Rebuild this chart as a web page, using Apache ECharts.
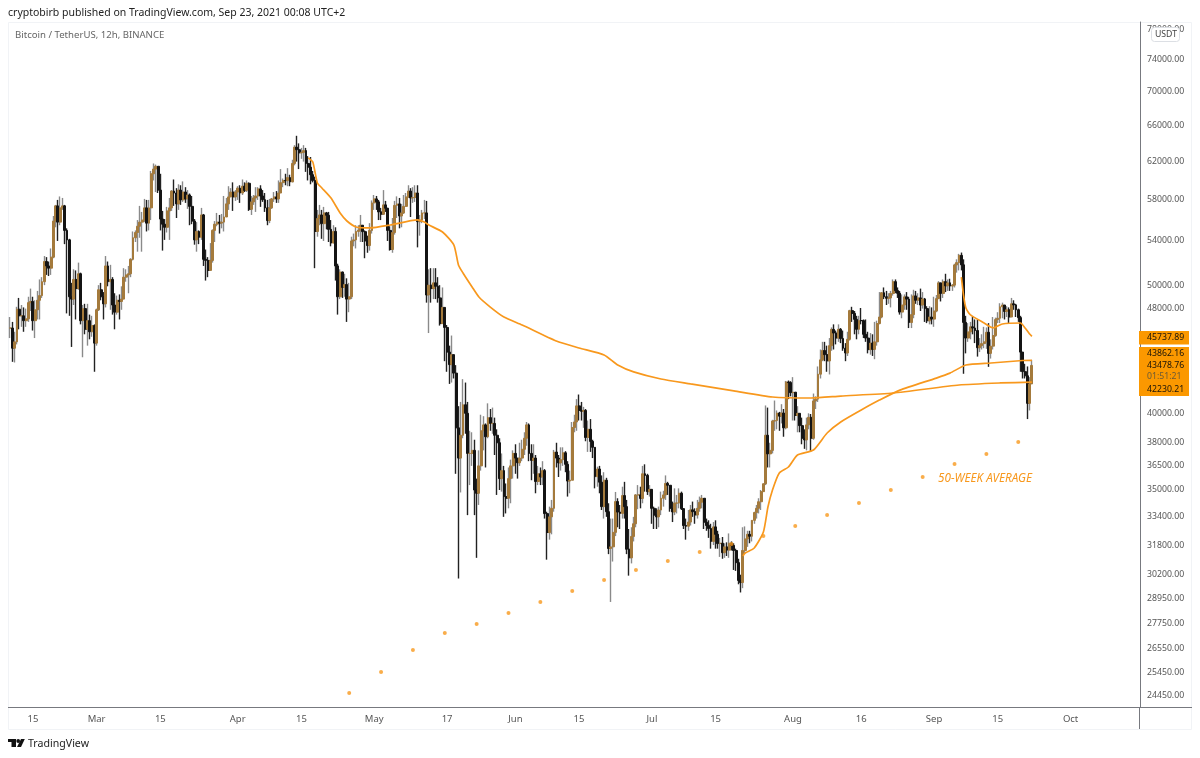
<!DOCTYPE html>
<html>
<head>
<meta charset="utf-8">
<title>BTCUSDT 12h</title>
<style>
  html, body { margin: 0; padding: 0; background: #fff; }
  #chart { width: 1200px; height: 758px; }
</style>
<script src="https://cdn.jsdelivr.net/npm/echarts@6/dist/echarts.min.js"></script>
</head>
<body>
<div id="chart"></div>
<script>
// 12h candles, Feb 10 00:00 to Sep 22 12:00, ten candles (five days) per row
var firstOpen = 46400;
var closes = [
  46400,44800,45300,47950,47400,47400,47000,47150,48500,48600,
  47000,47900,48700,49100,50300,52100,51700,51500,52500,55900,
  57400,55800,57200,57400,55000,54100,49000,48800,50500,49700,
  51000,47000,48000,46300,47000,46100,46600,45200,47900,49600,
  49000,48400,51700,50300,50500,48300,47700,48700,48600,48800,
  50700,50900,51000,52300,54300,54800,55400,55800,56000,57200,
  55700,57200,60700,61200,61500,59000,56100,55600,55300,56900,
  57200,58900,58700,57600,59000,58000,58800,58100,58500,57350,
  55900,54100,54900,54340,56500,52300,52200,51300,52200,55000,
  55600,55800,55700,55800,56300,57600,58300,58800,58300,58800,
  59200,58700,59400,58970,59700,57060,57800,58200,58400,59120,
  58400,58020,57200,55950,57200,58100,58300,58100,58700,59770,
  60000,59980,60300,59850,61800,63580,63300,62950,63000,63200,
  61800,61400,60600,60000,54900,56150,56500,55650,56700,56470,
  55100,53800,54900,51700,49000,51150,49800,50050,48800,49000,
  54000,54100,54900,55030,55500,54880,54000,53570,55000,57700,
  58100,57800,56800,56570,57500,57170,55000,53200,54800,57450,
  57600,56400,56700,57350,58300,58900,58200,58240,58700,55850,
  56000,56700,56700,49150,50000,49700,50200,49900,48900,46760,
  48100,46450,44500,43540,44300,42900,39000,37000,38500,40600,
  40000,37300,37300,37500,35000,34800,36500,38800,39200,38400,
  39700,39300,39300,38500,38000,35700,36200,34600,34500,35700,
  36500,37300,37000,36700,37000,37570,38300,39200,37300,36850,
  37000,35520,36000,35800,36200,33590,32500,33400,33900,37390,
  37000,36690,36900,37340,36600,35550,35600,39020,39400,40520,
  40200,40140,40200,38350,38900,38090,37700,35820,36300,35480,
  34000,35600,33700,31610,31700,32510,34300,33680,33600,34660,
  34000,31570,31100,32280,33000,34700,34700,34490,36000,35900,
  34900,35040,33900,33500,33400,33800,34500,34700,35400,35290,
  33900,33690,34200,34220,34800,33880,32900,32860,33100,33810,
  33700,33510,33900,34260,34500,33090,32900,32730,32000,32820,
  32400,31880,31900,31380,31700,31520,31900,31780,31500,30840,
  29900,29790,31500,32140,32400,32290,33200,33650,33900,34290,
  34900,35380,38500,37270,37500,39460,39500,40020,39800,40020,
  39000,42240,42200,41460,41500,39850,40000,39150,38300,38190,
  39200,39720,38300,40870,41000,42820,43900,44620,44300,43820,
  45000,46290,46000,45600,46300,45560,44800,44430,45500,47830,
  47600,47110,46300,47010,47000,45900,45600,44690,45200,44710,
  45300,46770,47300,49340,49000,48870,48900,49280,50300,49530,
  49300,47710,48300,48990,48800,46850,47500,49070,48700,48900,
  48300,48810,48000,46990,47300,47130,47800,48840,50200,49280,
  50300,49940,50200,49920,50000,51790,52000,52660,51800,46860,
  45600,46090,46500,46400,46200,44840,45000,45160,45300,46060,
  44400,44960,45800,47090,47200,48150,48300,47760,47900,47300,
  48400,48310,47900,47250,44500,43010,42700,40700,42100,43478.76
];
var highs = [
  47300,46900,46100,48150,48900,48300,48100,48000,49000,49700,
  49000,48700,49500,50500,50700,52600,52500,52100,53300,56400,
  57500,58000,58350,58200,57500,55200,54200,50200,51400,51300,
  52000,51100,48300,48400,48400,47500,47400,46700,48000,50000,
  50200,49400,52600,52100,51800,50700,49300,49100,49200,49900,
  51500,51400,51700,52400,54900,55000,56000,57400,56800,58100,
  58000,58000,61000,61800,61680,61500,60700,56900,56100,57300,
  58200,59000,60100,59200,59600,59500,59900,59300,59000,58650,
  58400,56100,55800,55000,57200,56600,53200,52500,53800,55100,
  55900,56700,56500,56600,58400,58200,59400,59200,59800,59000,
  59400,59500,60100,59800,60000,59800,58400,58500,59300,59300,
  59500,59000,58700,58000,58100,58200,58800,58900,60000,61200,
  60200,60700,61300,60600,62200,63800,64850,64000,63500,63800,
  63500,62600,62500,61000,60400,57000,57500,57000,57300,56800,
  56800,56000,55500,55300,51900,51400,51200,51000,50600,50200,
  54400,54700,55500,55500,56500,55400,55000,54500,55700,57950,
  58500,58400,58000,57200,59000,57900,57200,55400,56200,57900,
  58360,58200,57600,58500,58700,59500,59200,59300,59500,59500,
  56500,57000,58000,57900,51400,51500,51500,51500,50700,50000,
  49800,47800,46650,45000,45800,44000,43500,40500,40800,42450,
  42200,40800,38800,38700,38200,35700,37500,39900,39800,39300,
  40700,40300,40400,39700,38900,38300,37300,36500,35400,36400,
  36900,37500,37900,37000,38000,38200,38700,39400,39300,37900,
  37900,37200,36500,36400,36800,36300,33700,34000,34400,37530,
  38000,37200,37700,37700,37450,36800,36200,39400,39900,41000,
  41330,40800,40450,40300,39500,39600,38200,37400,36450,36500,
  35900,36100,35750,34200,33300,33300,34880,34500,34100,35200,
  35500,34400,32700,32800,33400,34750,35300,35200,36500,36600,
  36000,35300,35040,34000,33900,34000,34900,34950,35900,35500,
  35300,34300,35100,34700,35100,34900,33900,33300,33800,34100,
  34300,33900,34400,34600,34700,34500,33300,33200,33000,33100,
  33200,32600,32200,32250,31900,31950,32450,32000,31900,31600,
  31050,30200,32800,32850,32600,32600,33200,33700,34100,34500,
  35000,35400,40550,40400,38000,39550,40900,40200,40100,40640,
  40300,42320,42350,42300,42600,41100,40500,39700,39700,38900,
  39700,40000,39950,41400,41200,43400,44700,45300,45300,45000,
  45600,46450,46700,46200,46700,46400,46200,45200,46100,47900,
  48150,47800,47400,47400,48050,47100,47100,46100,46000,45900,
  46900,47000,49400,49400,49800,49500,49300,49500,50500,50500,
  49800,49500,49200,49200,49400,49000,49200,49600,49500,49300,
  49700,49400,48900,48200,48200,48100,49000,49150,50350,50000,
  50500,51000,50500,50560,50100,51900,52300,52800,52920,52300,
  47400,46800,46900,47350,47100,47100,45600,45900,46500,46450,
  46800,45500,47300,47250,47700,48450,48500,48300,48200,48100,
  48900,48700,48400,48000,47400,44400,43600,43400,42600,43900
];
var lows = [
  45600,43750,43700,45100,46300,46500,46100,46500,46900,47800,
  46200,45600,47100,47100,48900,50000,50900,50800,50900,52400,
  55300,54000,55500,57000,53700,47600,47400,44900,48300,47100,
  49600,46700,44100,45900,45000,45500,45700,43000,45000,47800,
  48700,47100,48100,49900,47900,47500,46300,47500,47100,47900,
  48800,50300,49300,50700,52200,53900,53000,54300,53000,55800,
  54900,55000,56000,60000,58800,58700,55000,53100,54100,54800,
  54100,56900,57400,56200,57000,57500,57800,57700,57100,55500,
  55600,53650,53000,53700,54100,51700,50400,50700,51300,52000,
  53900,55400,54700,55200,54900,57300,57000,58400,56900,57900,
  58000,57700,58500,58800,58800,56900,56500,57500,56800,58000,
  57300,57800,56800,55500,55700,57100,57800,57700,57700,58700,
  59300,59500,59400,59400,59800,61600,62000,61200,62300,62000,
  60900,60000,59600,59800,51500,54400,55500,54200,54000,55100,
  53900,53500,53800,50400,47500,48800,48900,49000,46900,47700,
  48800,53500,53300,54400,53900,53900,52400,52900,53100,54700,
  57000,57000,56000,56000,56500,56800,54000,53100,52900,54600,
  56200,55200,55300,56600,57300,58200,56300,57700,57800,53400,
  54500,55700,56100,48500,46000,48500,48800,48800,48500,46600,
  47700,43800,43000,42100,42200,42500,36000,30000,34850,38300,
  38600,33500,35300,36500,33500,31100,34100,36200,37500,36400,
  38300,38800,38600,37200,34700,35000,34900,33400,33600,33900,
  34200,35700,36000,35700,36500,36800,37200,37800,36800,35600,
  36000,34800,35300,35300,35300,33300,31000,32100,32400,33700,
  36400,35800,36200,36500,36100,34600,34800,35600,38700,38800,
  39500,39500,39000,38100,37400,37400,37000,35100,35200,34800,
  33800,33300,33400,31300,28800,30900,32300,32800,32700,33300,
  33300,31300,30150,30800,32000,32800,33850,33900,34200,34900,
  34700,34600,33000,32700,32700,32800,33500,34000,34400,34700,
  33700,33100,33500,33600,33900,33800,32700,32100,32600,32900,
  33400,33000,33300,33700,33900,32700,32600,32200,31600,31800,
  31600,31600,31150,31050,31100,31200,31100,31500,30450,30400,
  29700,29280,29500,31300,31700,31900,32000,33000,33300,33600,
  33800,34900,35300,36400,36400,37300,38800,38900,38800,39300,
  38400,38900,41000,41200,39500,39500,38700,38700,37900,37600,
  37500,38900,37400,38200,40300,40800,42500,43800,43800,43000,
  42800,44600,44700,45100,45300,45200,44600,43800,44200,45400,
  46900,45900,45500,45900,46700,45600,45300,44400,44300,44200,
  43950,45000,46700,47200,48800,48300,48400,48100,49100,49300,
  48900,47500,47200,47900,47900,46400,46400,47200,48400,48300,
  47800,48000,46900,46800,46700,46700,46500,47700,48800,48600,
  48900,49400,49500,49500,49500,49800,51100,51300,51300,42850,
  44400,45300,45500,45900,45200,44150,44500,44700,44800,44750,
  43370,44000,44700,45700,46800,46800,47200,47100,47300,46800,
  47700,47900,47300,46900,43000,42500,42500,39600,40200,42100
];

// moving averages, read at the bends: candle index and price
var longAvgBars = [131,133,135,137,141,145,148,152,158,167,179,182,184,190,195,197,199,203,206,211,217,225,240,250,261,267,274,286,299,318,335,352,365,388,417,435,449];
var longAvgValues = [62400,61950,59740,59220,58190,56690,55910,55330,55240,55520,56010,55810,55520,54850,53620,51790,51070,49840,48980,48130,47300,46650,45370,44820,44280,43510,42990,42460,42100,41590,41150,41080,41220,41440,42020,42170,42230.21];
var midAvgBars = [322,323,327,331,333,335,338,342,346,353,359,365,374,382,391,407,413,420,431,445,449];
var midAvgValues = [31200,31360,31640,32530,33980,35000,36050,36430,37200,37520,38650,39400,40230,40930,41650,42530,42900,43510,43660,43850,43862.16];
var shortAvgBars = [418,419,420,422,428,432,436,444,446,448,449];
var shortAvgValues = [50710,49070,48050,47470,46810,46410,46730,46810,46410,45920,45737.89];

// 50-week average dots, one per week
var weeklyBars = [149,163,177,191,205,219,233,247,261,275,289,303,317,331,345,359,373,387,401,415,429,443];
var weeklyValues = [24580,25490,26490,27280,27720,28250,28800,29360,29920,30450,30930,31420,31860,32300,32870,33510,34220,35000,35800,36620,37260,38050];

var priceTicks = [24450,25450,26550,27750,28950,30200,31800,33400,35000,36500,38000,40000,48000,50000,54000,58000,62000,66000,70000,74000,78000];
var timeTickDays = ['2021-02-15','2021-03-01','2021-03-15','2021-04-01','2021-04-15','2021-05-01','2021-05-17','2021-06-01','2021-06-15','2021-07-01','2021-07-15','2021-08-01','2021-08-16','2021-09-01','2021-09-15','2021-10-01'];
var timeTickLabels = ['15','Mar','15','Apr','15','May','17','Jun','15','Jul','15','Aug','16','Sep','15','Oct'];

var ORANGE = '#f8981d';
var AXIS = '#77797f';
var FONT = '"Noto Sans", sans-serif';

// the axis runs on past the last candle, up to Oct 11
var categories = [];
var t0 = Date.UTC(2021, 1, 10);
for (var c = 0; c < 497; c++) {
  categories.push(new Date(t0 + c * 43200000).toISOString().slice(0, 16).replace('T', ' '));
}

var tickNames = {};
timeTickDays.forEach(function(d, i){
  tickNames[d + ' 00:00'] = timeTickLabels[i];
});

var candleData = [];
var bodyData = [];
closes.forEach(function(close, i){
  var open = i ? closes[i - 1] : firstOpen;
  candleData.push([open, close, Math.min(lows[i], open, close), Math.max(highs[i], open, close)]);
  bodyData.push([open, close, Math.min(open, close), Math.max(open, close)]);
});

function pairs(bars, values){
  return bars.map(function(b, i){ return [b, values[i]]; });
}

function avgSeries(name, bars, values){
  return {
    name: name,
    type: 'line',
    data: pairs(bars, values),
    showSymbol: false,
    smooth: 0.2,
    z: 5,
    lineStyle: { color: ORANGE, width: 1.7 }
  };
}

function tagText(x, y, text, color){
  return {
    type: 'text', x: x, y: y, z: 12,
    style: { text: text, fill: color || '#1a1408', font: '8.7px ' + FONT, textVerticalAlign: 'middle' }
  };
}

var lastLong = longAvgValues[longAvgValues.length - 1];
var lastMid = midAvgValues[midAvgValues.length - 1];
var lastShort = shortAvgValues[shortAvgValues.length - 1];
var lastClose = closes[closes.length - 1];

var chart = echarts.init(document.getElementById('chart'));
chart.setOption({
  animation: false,
  backgroundColor: '#fff',
  title: [
    { text: 'cryptobirb published on TradingView.com, Sep 23, 2021 00:08 UTC+2', left: 8, top: 8, padding: 0,
      textStyle: { fontFamily: FONT, fontSize: 10.5, fontWeight: 'normal', color: '#222' } },
    { text: 'Bitcoin / TetherUS, 12h, BINANCE', left: 15, top: 30, padding: 0,
      textStyle: { fontFamily: FONT, fontSize: 9.6, fontWeight: 'normal', color: '#666' } }
  ],
  grid: { left: 9, top: 22, width: 1131, height: 685 },
  xAxis: {
    type: 'category',
    data: categories,
    boundaryGap: true,
    axisLine: { lineStyle: { color: AXIS, width: 1 } },
    axisTick: { show: false },
    splitLine: { show: false },
    axisLabel: {
      interval: function(i, name){ return tickNames[name] !== undefined; },
      formatter: function(name){ return tickNames[name]; },
      color: '#555', fontFamily: FONT, fontSize: 9.5, margin: 7
    }
  },
  yAxis: {
    type: 'log',
    position: 'right',
    min: 23986,
    max: 79062,
    axisLine: { show: true, lineStyle: { color: AXIS, width: 1 } },
    axisTick: { show: false },
    splitLine: { show: false },
    minorTick: { show: false },
    minorSplitLine: { show: false },
    axisLabel: {
      customValues: priceTicks,
      formatter: function(v){ return Number(v).toFixed(2); },
      color: '#555', fontFamily: FONT, fontSize: 8.7, margin: 7, align: 'left', padding: [6, 0, 0, 0]
    }
  },
  series: [
    {
      name: 'wicks',
      type: 'candlestick',
      data: candleData,
      barWidth: 1,
      z: 2,
      itemStyle: { color: '#8a8a8a', color0: '#222', borderColor: '#8a8a8a', borderColor0: '#222', borderWidth: 1.4 }
    },
    {
      name: 'bodies',
      type: 'candlestick',
      data: bodyData,
      barWidth: 2.4,
      z: 3,
      itemStyle: { color: '#a47a3c', color0: '#141414', borderColor: '#a47a3c', borderColor0: '#141414', borderWidth: 1 }
    },
    avgSeries('long average', longAvgBars, longAvgValues),
    avgSeries('mid average', midAvgBars, midAvgValues),
    avgSeries('short average', shortAvgBars, shortAvgValues),
    {
      name: '50-week average',
      type: 'scatter',
      data: pairs(weeklyBars, weeklyValues),
      symbol: 'circle',
      symbolSize: 4,
      z: 6,
      itemStyle: { color: ORANGE }
    }
  ],
  graphic: [
    { type: 'rect', silent: true, z: -1, shape: { x: 8.5, y: 22.5, width: 1183, height: 707 }, style: { fill: 'none', stroke: '#f1f3f6', lineWidth: 1 } },
    { type: 'line', silent: true, z: 9, shape: { x1: 8, y1: 707.5, x2: 1192, y2: 707.5 }, style: { stroke: AXIS, lineWidth: 1 } },
    { type: 'line', silent: true, z: 9, shape: { x1: 1139.5, y1: 707, x2: 1139.5, y2: 729 }, style: { stroke: AXIS, lineWidth: 1 } },
    { type: 'text', x: 938, y: 479, z: 9, style: { text: '50-WEEK AVERAGE', fill: ORANGE, font: 'italic 11.7px ' + FONT, textVerticalAlign: 'middle' } },

    // unit badge over the top tick
    { type: 'rect', z: 11, shape: { x: 1151.5, y: 27.5, width: 28, height: 14, r: 3 }, style: { fill: '#fff', stroke: '#dcdfe4', lineWidth: 1 } },
    { type: 'text', x: 1155, y: 35, z: 12, style: { text: 'USDT', fill: '#444', font: '8.7px ' + FONT, textVerticalAlign: 'middle' } },

    // last value tags
    { type: 'rect', z: 11, shape: { x: 1139, y: 331, width: 50, height: 13.5 }, style: { fill: '#fb9800' } },
    { type: 'rect', z: 11, shape: { x: 1139, y: 347, width: 50, height: 49 }, style: { fill: '#fb9800' } },
    tagText(1147, 337.5, lastShort.toFixed(2)),
    tagText(1147, 353.5, lastMid.toFixed(2)),
    tagText(1147, 366, lastClose.toFixed(2)),
    tagText(1147, 377, '01:51:21', '#6b5a35'),
    tagText(1147, 389.5, lastLong.toFixed(2)),

    // TradingView mark and name
    { type: 'polygon', z: 9, shape: { points: [[8,739],[16,739],[16,747],[11.5,747],[11.5,742],[8,742]] }, style: { fill: '#111' } },
    { type: 'circle', z: 9, shape: { cx: 18.2, cy: 741, r: 1.9 }, style: { fill: '#111' } },
    { type: 'polygon', z: 9, shape: { points: [[21,739],[24.8,739],[21,747],[17,747]] }, style: { fill: '#111' } },
    { type: 'text', x: 28, y: 743.5, z: 9, style: { text: 'TradingView', fill: '#222', font: '10.6px ' + FONT, textVerticalAlign: 'middle' } }
  ]
});
</script>
</body>
</html>
